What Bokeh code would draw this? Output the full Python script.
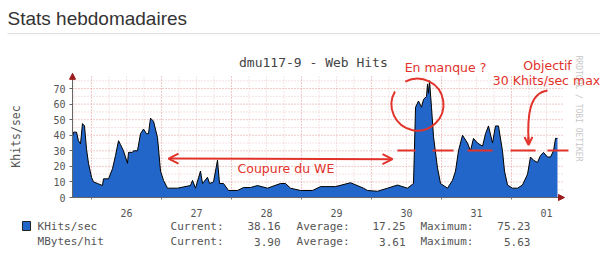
import math
from bokeh.plotting import figure
from bokeh.models import (Range1d, FixedTicker, Label, Arrow, OpenHead, NormalHead,
                          BoxAnnotation, LinearAxis)
from bokeh.embed import file_html
from bokeh.resources import INLINE

# ---- data (time in days since the 26th 00:00, value in Khits/sec) ----
days = [-0.271, -0.257, -0.214, -0.186, -0.157, -0.129, -0.1, -0.071, -0.043, 0.0,
        0.029, 0.086, 0.157, 0.171, 0.243, 0.3, 0.343, 0.386, 0.414, 0.457,
        0.514, 0.529, 0.586, 0.6, 0.657, 0.7, 0.743, 0.786, 0.814, 0.843,
        0.886, 0.943, 0.986, 1.029, 1.086, 1.229, 1.414, 1.443, 1.486, 1.557,
        1.586, 1.657, 1.686, 1.743, 1.8, 1.829, 1.886, 1.957, 2.086, 2.171,
        2.271, 2.371, 2.514, 2.7, 2.771, 2.843, 2.986, 3.157, 3.271, 3.486,
        3.7, 3.886, 3.943, 4.086, 4.229, 4.371, 4.514, 4.6, 4.629, 4.671,
        4.714, 4.743, 4.786, 4.8, 4.814, 4.829, 4.857, 4.886, 4.943, 4.986,
        5.086, 5.157, 5.2, 5.243, 5.3, 5.371, 5.414, 5.457, 5.514, 5.586,
        5.629, 5.671, 5.729, 5.771, 5.814, 5.871, 5.9, 5.943, 6.014, 6.086,
        6.157, 6.229, 6.271, 6.314, 6.371, 6.414, 6.457, 6.514, 6.557, 6.6,
        6.629, 6.657]
khits = [39, 42, 42, 36.5, 34.5, 47.5, 46, 31, 22, 13,
         10, 9, 7.7, 12, 12, 18.5, 27, 36.5, 34, 30,
         22, 29, 29, 30, 30, 41, 44, 41, 41, 51,
         49, 38.5, 17, 11, 6, 6, 7.7, 11, 6, 17,
         9, 13, 9, 10, 24, 9, 9, 4.5, 4.5, 6.4,
         6.4, 7.7, 6, 9, 9, 6, 4.5, 4.5, 7, 7,
         9.5, 6, 4.5, 4, 6, 8, 6, 9, 58, 62,
         58, 63, 65, 73, 67, 75, 58, 39, 19, 9,
         6, 11, 17, 30, 40, 35, 30, 38, 35, 33,
         41, 46, 35, 46, 46, 30, 17, 8, 6, 6,
         8, 15, 26, 24, 22.5, 27, 29, 26, 26, 30,
         38, 38]

day_ticks = [0.5, 1.5, 2.5, 3.5, 4.5, 5.5, 6.5]
day_labels = ["26", "27", "28", "29", "30", "31", "01"]
midnights = [0, 1, 2, 3, 4, 5, 6]
y_ticks = [0, 10, 20, 30, 40, 50, 60, 70]
y_minor = [5, 15, 25, 35, 45, 55, 65, 75]

series_names = ["KHits/sec", "MBytes/hit"]
current_vals = ["38.16", "3.90"]
average_vals = ["17.25", "3.61"]
maximum_vals = ["75.23", "5.63"]

# plotting window of the graph (days / Khits)
X0, X1 = -0.271, 6.729
Y0, Y1 = 0.0, 78.4

BLUE = "#2366C9"
RED = "#E2332B"
GREY = "#555555"
MONO = "DejaVu Sans Mono"

# the frame covers the whole canvas so that texts around the graph are not clipped
p = figure(width=600, height=267, title=None,
           x_range=Range1d(-1.3, 7.2714), y_range=Range1d(-44.98, 126.60),
           x_axis_type=None, y_axis_type=None,
           output_backend="svg", toolbar_location=None, min_border=0)
p.outline_line_color = None
p.background_fill_color = "white"
p.border_fill_color = "white"
p.grid.visible = False

# grid (drawn from the tick lists, limited to the graph window)
minor_x = [k / 4 for k in range(-1, 27) if k % 4 != 0]
p.segment(x0=minor_x, y0=[Y0] * len(minor_x), x1=minor_x, y1=[Y1] * len(minor_x),
          line_color="#EBC6C6", line_dash="1 2", line_width=1)
p.segment(x0=[X0] * len(y_minor), y0=y_minor, x1=[X1] * len(y_minor), y1=y_minor,
          line_color="#EBC6C6", line_dash="1 2", line_width=1)
p.segment(x0=midnights, y0=[Y0] * 7, x1=midnights, y1=[Y1] * 7,
          line_color="#E09494", line_dash="1 2", line_width=1)
p.segment(x0=[X0] * 7, y0=y_ticks[1:], x1=[X1] * 7, y1=y_ticks[1:],
          line_color="#E09494", line_dash="1 2", line_width=1)

# data
p.varea(x=days, y1=[0] * len(days), y2=khits, fill_color=BLUE)
p.line(x=days, y=khits, line_color="black", line_width=1)

# axes, fixed at the graph window edges
xaxis = LinearAxis(fixed_location=0, bounds=(X0, X1),
                   ticker=FixedTicker(ticks=day_ticks, minor_ticks=midnights))
xaxis.major_label_overrides = {t: l for t, l in zip(day_ticks, day_labels)}
xaxis.major_tick_line_color = None
xaxis.minor_tick_out = 2
xaxis.minor_tick_in = 0
xaxis.major_label_standoff = 5
yaxis = LinearAxis(fixed_location=X0, bounds=(Y0, Y1),
                   ticker=FixedTicker(ticks=y_ticks, minor_ticks=[]))
yaxis.major_tick_out = 3
yaxis.major_tick_in = 0
yaxis.major_label_standoff = 4
yaxis.axis_label = "Khits/sec"
yaxis.axis_label_standoff = 27
for ax in (xaxis, yaxis):
    ax.axis_line_color = "#666666"
    ax.minor_tick_line_color = "#777777"
    ax.major_label_text_font = MONO
    ax.major_label_text_font_size = "10px"
    ax.major_label_text_color = GREY
    ax.axis_label_text_font = MONO
    ax.axis_label_text_font_size = "11.5px"
    ax.axis_label_text_font_style = "normal"
    ax.axis_label_text_color = GREY
yaxis.major_tick_line_color = "#666666"
p.add_layout(xaxis, "below")
p.add_layout(yaxis, "left")

# axis arrow heads
p.add_layout(Arrow(x_start=X0, y_start=75, x_end=X0, y_end=79.8, line_alpha=0,
                   end=NormalHead(size=6, fill_color="#9B1C1C", line_color="#9B1C1C")))
p.add_layout(Arrow(x_start=6.65, y_start=0, x_end=6.757, y_end=0, line_alpha=0,
                   end=NormalHead(size=6, fill_color="#9B1C1C", line_color="#9B1C1C")))

# titles
p.add_layout(Label(x=-1.2, y=115, text="Stats hebdomadaires", text_font="Liberation Sans",
                   text_font_size="19px", text_color="#333333", text_baseline="middle"))
p.add_layout(Arrow(x_start=-1.2, y_start=105.3, x_end=7.3, y_end=105.3, end=None,
                   line_color="#DDDDDD", line_width=1))
p.add_layout(Label(x=3.17, y=86.7, text="dmu117-9 - Web Hits", text_font=MONO,
                   text_font_size="13px", text_color="#444444", text_align="center",
                   text_baseline="middle"))
p.add_layout(Label(x=6.957, y=57.2, text="RRDTOOL / TOBI OETIKER", text_font=MONO,
                   text_font_size="8px", text_color="#C8C8C8", text_align="center",
                   text_baseline="middle", angle=-math.pi / 2))

# legend
p.add_layout(BoxAnnotation(left=-0.986, right=-0.871, top=-15.4, bottom=-21.2,
                           fill_color=BLUE, fill_alpha=1, line_color="#222222", line_alpha=1))
rows_y = [-18.6, -28.3]
for i, yy in enumerate(rows_y):
    common = dict(y=yy, text_font=MONO, text_font_size="11px", text_color=GREY,
                  text_baseline="middle")
    p.add_layout(Label(x=-0.771, text=series_names[i], **common))
    p.add_layout(Label(x=1.129, text="Current:", **common))
    p.add_layout(Label(x=2.7, text=current_vals[i], text_align="right", **common))
    p.add_layout(Label(x=2.929, text="Average:", **common))
    p.add_layout(Label(x=4.486, text=average_vals[i], text_align="right", **common))
    p.add_layout(Label(x=4.7, text="Maximum:", **common))
    p.add_layout(Label(x=6.271, text=maximum_vals[i], text_align="right", **common))

# hand-drawn red annotations
ann = dict(text_font="DejaVu Sans", text_font_size="12.5px", text_color=RED,
           text_baseline="middle")
p.add_layout(Arrow(x_start=1.1, y_start=25.0, x_end=4.3, y_end=24.6, line_color=RED,
                   line_width=2,
                   start=OpenHead(size=10, line_color=RED, line_width=2),
                   end=OpenHead(size=10, line_color=RED, line_width=2)))
p.add_layout(Label(x=2.086, y=18.6, text="Coupure du WE", **ann))
p.add_layout(Label(x=5.057, y=83.5, text="En manque ?", text_align="center", **ann))
p.add_layout(Label(x=6.514, y=84.8, text="Objectif", text_align="center", **ann))
p.add_layout(Label(x=6.5, y=75.1, text="30 Khits/sec max", text_align="center", **ann))
p.arc(x=[4.657], y=[59.7], radius=26, radius_units="screen",
      start_angle=math.radians(150), end_angle=math.radians(118),
      line_color=RED, line_width=2)
for xs, xe in [(4.371, 4.629), (4.871, 5.171), (5.371, 5.729), (5.986, 6.343), (6.514, 6.814)]:
    p.add_layout(Arrow(x_start=xs, y_start=30.2, x_end=xe, y_end=30.2, end=None,
                       line_color=RED, line_width=2))
p.bezier(x0=[6.514], y0=[68.7], x1=[6.243], y1=[35.5], cx0=[6.25], cy0=[67],
         cx1=[6.225], cy1=[52], line_color=RED, line_width=2)
p.add_layout(Arrow(x_start=6.242, y_start=39, x_end=6.245, y_end=33.8, line_color=RED,
                   line_width=2, end=OpenHead(size=8, line_color=RED, line_width=2)))

open("out.html", "w").write(file_html(p, INLINE))
